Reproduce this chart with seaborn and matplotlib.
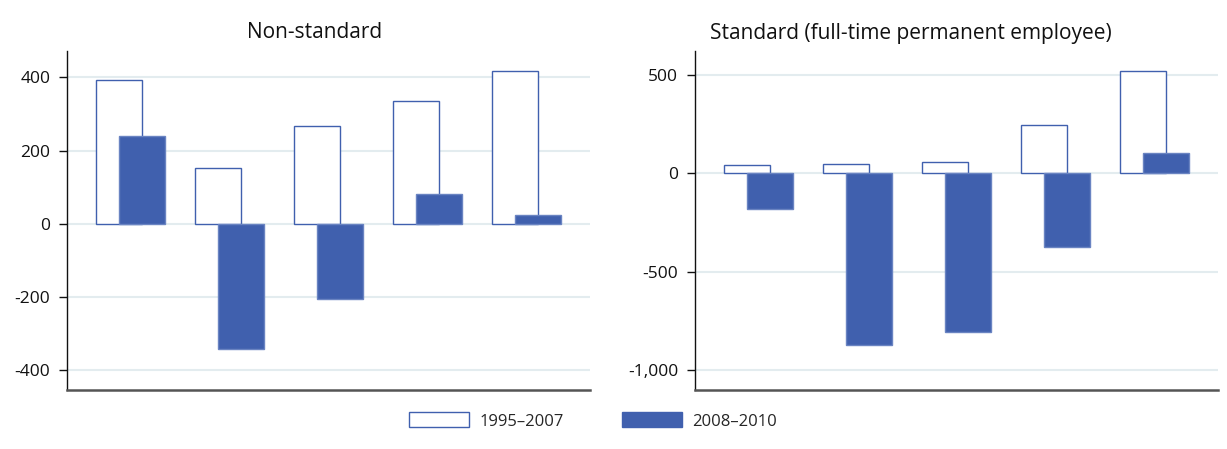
import matplotlib
matplotlib.use("Agg")
import matplotlib.pyplot as plt
import matplotlib.patches as mpatches
from matplotlib.ticker import FuncFormatter
import numpy as np
import pandas as pd
import seaborn as sns

# ---- data ----
categories = ["1", "2", "3", "4", "5"]
periods = ["1995\u20132007", "2008\u20132010"]
nonstd_1995_2007 = [393, 153, 266, 335, 416]
nonstd_2008_2010 = [241, -342, -205, 82, 25]
std_1995_2007 = [41, 47, 56, 244, 517]
std_2008_2010 = [-183, -873, -807, -376, 102]
titles = ["Non-standard", "Standard (full-time permanent employee)"]
left_ticks = [-400, -200, 0, 200, 400]
right_ticks = [-1000, -500, 0, 500]

BLUE = "#4060ae"
EDGE_FILLED = "#6a84c2"
GRID = "#e3ecef"

sns.set_theme(style="white")
plt.rcParams["font.family"] = ["Open Sans", "DejaVu Sans"]
plt.rcParams["axes.unicode_minus"] = False


def long_df(a, b):
    return pd.DataFrame({
        "category": categories * 2,
        "period": [periods[0]] * len(categories) + [periods[1]] * len(categories),
        "value": list(a) + list(b),
    })


fig = plt.figure(figsize=(12.27, 4.49), dpi=100)
W, H = 1227, 449
ax1 = fig.add_axes([67 / W, 1 - 389.5 / H, 523 / W, (389.5 - 51) / H])
ax2 = fig.add_axes([695 / W, 1 - 389.5 / H, 523 / W, (389.5 - 51) / H])

panels = [
    (ax1, long_df(nonstd_1995_2007, nonstd_2008_2010), left_ticks, (-453, 472), titles[0], 0.474),
    (ax2, long_df(std_1995_2007, std_2008_2010), right_ticks, (-1098, 620), titles[1], 0.413),
]

for ax, df, ticks, ylim, title, tx in panels:
    sns.barplot(data=df, x="category", y="value", hue="period", hue_order=periods,
                palette=["white", BLUE], saturation=1, edgecolor=BLUE, linewidth=1.0,
                width=0.465, gap=-1, dodge=True, ax=ax, legend=False)
    n = len(categories)
    for i, p in enumerate(ax.patches):
        if i >= n:
            p.set_edgecolor(EDGE_FILLED)
    ax.set_xlim(-0.643, 4.64)
    ax.set_ylim(*ylim)
    ax.set_yticks(ticks)
    ax.yaxis.set_major_formatter(FuncFormatter(lambda v, pos: f"{int(v):,}"))
    ax.set_xticks([])
    ax.set_xlabel("")
    ax.set_ylabel("")
    ax.grid(axis="y", color=GRID, linewidth=1.5)
    ax.set_axisbelow(True)
    for s in ["top", "right"]:
        ax.spines[s].set_visible(False)
    ax.spines["left"].set_color("#111111")
    ax.spines["left"].set_linewidth(1.0)
    ax.spines["bottom"].set_color("#555555")
    ax.spines["bottom"].set_linewidth(1.8)
    ax.tick_params(axis="y", left=True, length=6, width=1, color="#111111",
                   labelsize=12.5, pad=6, labelcolor="#111111")
    ax.set_title(title, fontsize=15, x=tx, pad=9, color="#111111")

handles = [
    mpatches.Patch(facecolor="white", edgecolor=BLUE, linewidth=1.0, label=periods[0]),
    mpatches.Patch(facecolor=BLUE, edgecolor=BLUE, linewidth=1.0, label=periods[1]),
]
fig.legend(handles=handles, loc="center", bbox_to_anchor=(593 / W, 1 - 421 / H),
           ncol=2, frameon=False, fontsize=12, handlelength=3.6, handleheight=1.0,
           handletextpad=0.6, columnspacing=3.5)

fig.savefig("out.png", dpi=100)
